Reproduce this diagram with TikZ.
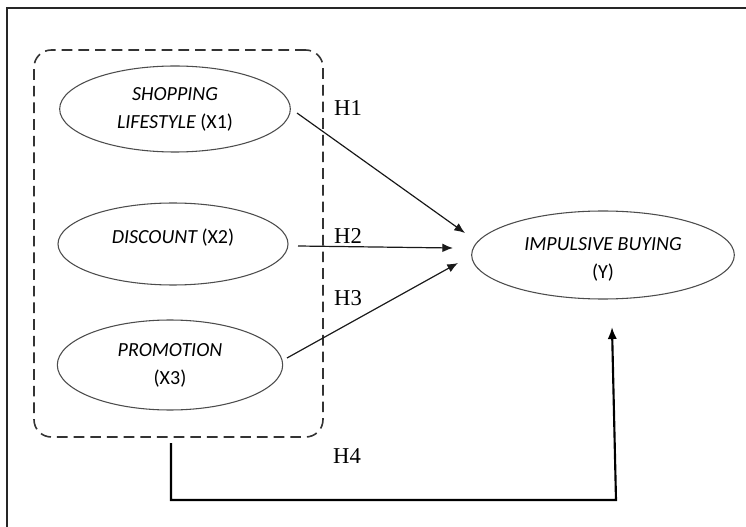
\documentclass[tikz,border=0pt]{standalone}
\usepackage{fontspec}
\setmainfont{Liberation Serif}
\newfontfamily\carl{Carlito}
\usetikzlibrary{shapes.geometric,arrows.meta}
\tikzset{
  ellip/.style={ellipse, draw=black!70, line width=0.8pt, inner sep=0pt, align=center,
    font=\carl\fontsize{15}{21}\selectfont},
  eltext/.style={font=\carl\fontsize{15}{21}\selectfont, align=center, inner sep=0pt},
  grpbox/.style={draw=black!80, line width=1.2pt, dash pattern=on 8pt off 4.5pt,
    rounded corners=13pt, inner sep=0pt},
  arr/.style={draw=black!90, line width=0.9pt, -{Latex[length=8pt,width=6.5pt]}},
  hlab/.style={font=\fontsize{17}{19}\selectfont, inner sep=0pt},
  frame/.style={draw=black!85, line width=0.8pt}
}
\begin{document}
\begin{tikzpicture}[x=0.75pt,y=-0.75pt]
\useasboundingbox (0,0) rectangle (746,527);
\fill[white] (0,0) rectangle (746,527);
% frame
\coordinate (fa) at (7,527);
\coordinate (fb) at (7,8);
\coordinate (fc) at (746,8);
\draw[frame] (fa) -- (fb) -- (fc);
% group box
\node[grpbox, minimum width=216.75pt, minimum height=290.25pt] (grp) at (178.5,243.5) {};
% ellipses
\node[ellip, minimum width=173pt, minimum height=64.5pt] (x1) at (175,109)
  {\itshape SHOPPING\\ \itshape LIFESTYLE {\upshape (X1)}};
\node[ellip, minimum width=172.5pt, minimum height=61.5pt] (x2) at (173,244) {};
\node[eltext] (x2t) at (173,238) {\itshape DISCOUNT {\upshape (X2)}};
\node[ellip, minimum width=169pt, minimum height=67.5pt] (x3) at (170,365)
  {\itshape PROMOTION\\ (X3)};
\node[ellip, minimum width=197pt, minimum height=66pt] (y) at (603,255) {};
\node[eltext] (yt) at (603,259) {\itshape IMPULSIVE BUYING\\ (Y)};
% arrow tips
\coordinate (t1) at (465,233);
\coordinate (t2) at (453,248);
\coordinate (t3) at (458,263);
\coordinate (s1) at (297,113);
\coordinate (s2) at (298,246);
\coordinate (s3) at (287,358);
\draw[arr] (s1) -- (t1);
\draw[arr] (s2) -- (t2);
\draw[arr] (s3) -- (t3);
% H4
\coordinate (h4a) at (171,443);
\coordinate (h4b) at (171,500);
\coordinate (h4c) at (616,500);
\coordinate (h4d) at (612,327);
\draw[draw=black, line width=1.6pt, -{Latex[length=9pt,width=7pt]}] (h4a) -- (h4b) -- (h4c) -- (h4d);
% labels
\node[hlab] (l1) at (348,108) {H1};
\node[hlab] (l2) at (348,236) {H2};
\node[hlab] (l3) at (348,298) {H3};
\node[hlab] (l4) at (347,456) {H4};
\end{tikzpicture}
\end{document}
